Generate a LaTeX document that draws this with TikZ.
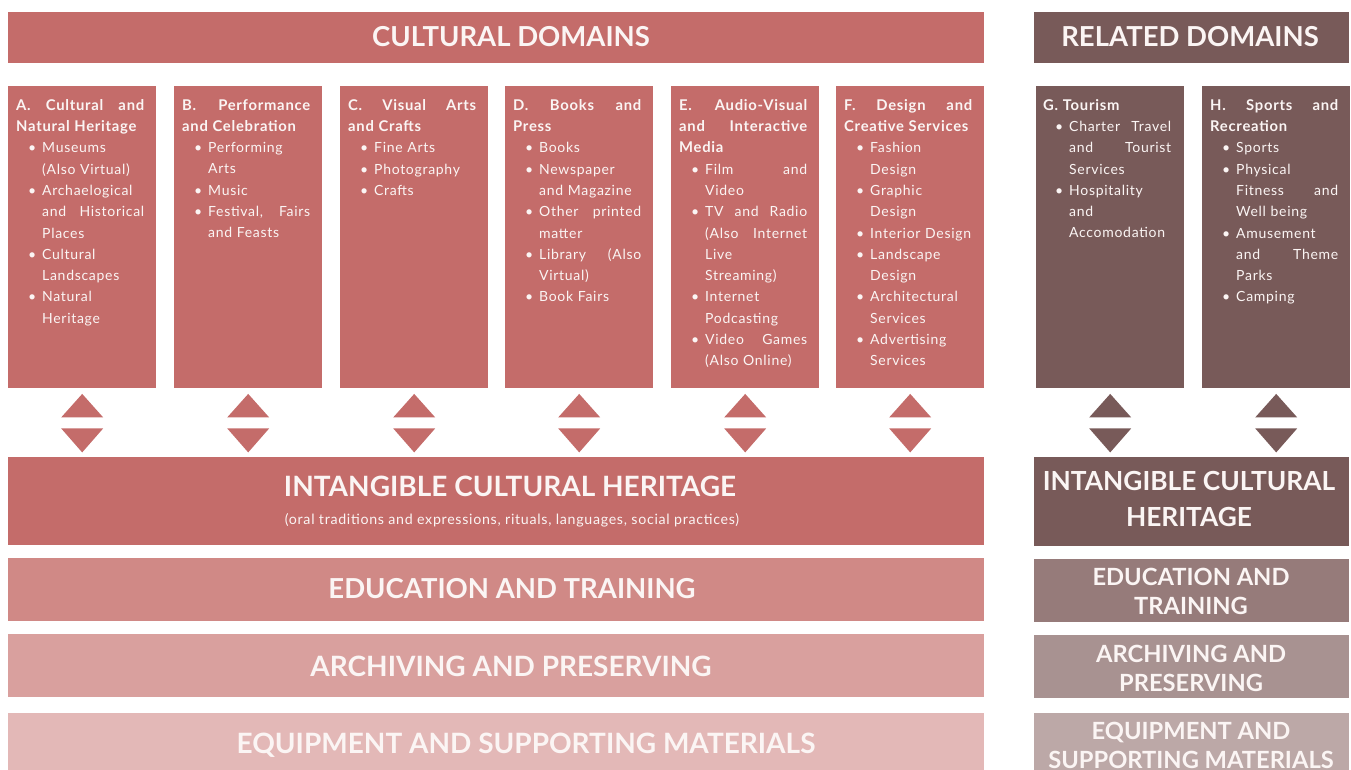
\documentclass[tikz,border=0pt]{standalone}
\usepackage{fontspec}
\setmainfont{Lato}
\newfontfamily\bodyf[LetterSpace=5]{Lato}
\usetikzlibrary{calc}
\definecolor{cd}{HTML}{C46C6A}
\definecolor{rd}{HTML}{785A59}
\definecolor{edL}{HTML}{D08986}
\definecolor{arL}{HTML}{D9A09E}
\definecolor{eqL}{HTML}{E3B8B7}
\definecolor{edR}{HTML}{967B7A}
\definecolor{arR}{HTML}{A89291}
\definecolor{eqR}{HTML}{BCA8A7}
\definecolor{txt}{HTML}{FBF5F4}
\newcommand\jl[2][128pt]{\makebox[#1][s]{\spaceskip=.3em plus 1fil\relax#2}}
\newcommand\ji[1]{\makebox[102pt][s]{\spaceskip=.3em plus 1fil\relax#1}}
\newcommand\hd[1]{{\bfseries\fontsize{14.8pt}{21.3pt}\selectfont#1}}
\newcommand\bu{\hspace*{12pt}\makebox[14pt][l]{\textbullet}}
\newcommand\ind{\hspace*{26pt}}
\tikzset{
  colbox/.style={fill=cd, minimum width=148pt, minimum height=302pt, inner sep=0pt, anchor=north west},
  relbox/.style={colbox, fill=rd},
  coltext/.style={text=txt, text width=132pt, align=left, inner sep=0pt, anchor=north west,
    font=\bodyf\fontsize{14pt}{21.3pt}\selectfont},
  bar/.style={inner sep=0pt, anchor=north west},
  hfont/.style={text=txt, inner sep=0pt, align=center, font=\bfseries\fontsize{27.5pt}{35pt}\selectfont},
  hbig/.style={hfont, font=\bfseries\fontsize{28pt}{35pt}\selectfont},
  rifont/.style={text=txt, inner sep=0pt, align=center, font=\bfseries\fontsize{26.3pt}{35.5pt}\selectfont},
  rfont/.style={text=txt, inner sep=0pt, align=center, font=\bfseries\fontsize{23.7pt}{29pt}\selectfont},
  tri/.style={fill=cd},
  rtri/.style={fill=rd},
}
\begin{document}
\begin{tikzpicture}[x=1pt,y=-1pt]
\useasboundingbox (0,0) rectangle (1351,769);
\clip (0,0) rectangle (1351,769);
% title bars
\node[bar, fill=cd, minimum width=976pt, minimum height=51pt] (cdbar) at (8,12) {};
\node[hfont] (cdt) at (511,37) {CULTURAL DOMAINS};
\node[bar, fill=rd, minimum width=315pt, minimum height=51pt] (rdbar) at (1034,12) {};
\node[hfont] (rdt) at (1190,37) {RELATED DOMAINS};
% column boxes
\node[colbox] (A) at (8,86) {};
\node[colbox] (B) at (174,86) {};
\node[colbox] (C) at (340,86) {};
\node[colbox] (D) at (505,86) {};
\node[colbox] (E) at (671,86) {};
\node[colbox] (F) at (836,86) {};
\node[relbox] (G) at (1036,86) {};
\node[relbox] (H) at (1202,86) {};
% column texts
\node[coltext] (At) at (16,99) {\hd{\jl{A. Cultural and}}\\
\hd{Natural Heritage}\\
\bu Museums\\
\ind (Also Virtual)\\
\bu Archaelogical\\
\ind\ji{and Historical}\\
\ind Places\\
\bu Cultural\\
\ind Landscapes\\
\bu Natural\\
\ind Heritage};
\node[coltext] (Bt) at (182,99) {\hd{\jl{B. Performance}}\\
\hd{and Celebration}\\
\bu Performing\\
\ind Arts\\
\bu Music\\
\bu\ji{Festival, Fairs}\\
\ind and Feasts};
\node[coltext] (Ct) at (348,99) {\hd{\jl{C. Visual Arts}}\\
\hd{and Crafts}\\
\bu Fine Arts\\
\bu Photography\\
\bu Crafts};
\node[coltext] (Dt) at (513,99) {\hd{\jl{D. Books and}}\\
\hd{Press}\\
\bu Books\\
\bu Newspaper\\
\ind and Magazine\\
\bu\ji{Other printed}\\
\ind matter\\
\bu\ji{Library (Also}\\
\ind Virtual)\\
\bu Book Fairs};
\node[coltext] (Et) at (679,99) {\hd{\jl{E. Audio-Visual}}\\
\hd{\jl{and Interactive}}\\
\hd{Media}\\
\bu\ji{Film and}\\
\ind Video\\
\bu\ji{TV and Radio}\\
\ind\ji{(Also Internet}\\
\ind Live\\
\ind Streaming)\\
\bu Internet\\
\ind Podcasting\\
\bu\ji{Video Games}\\
\ind (Also Online)};
\node[coltext] (Ft) at (844,99) {\hd{\jl{F. Design and}}\\
\hd{Creative Services}\\
\bu Fashion\\
\ind Design\\
\bu Graphic\\
\ind Design\\
\bu Interior Design\\
\bu Landscape\\
\ind Design\\
\bu Architectural\\
\ind Services\\
\bu Advertising\\
\ind Services};
\node[coltext] (Gt) at (1043,99) {\hd{G. Tourism}\\
\bu\ji{Charter Travel}\\
\ind\ji{and Tourist}\\
\ind Services\\
\bu Hospitality\\
\ind and\\
\ind Accomodation};
\node[coltext] (Ht) at (1210,99) {\hd{\jl{H. Sports and}}\\
\hd{Recreation}\\
\bu Sports\\
\bu Physical\\
\ind\ji{Fitness and}\\
\ind Well being\\
\bu Amusement\\
\ind\ji{and Theme}\\
\ind Parks\\
\bu Camping};
% bands left
\node[bar, fill=cd, minimum width=976pt, minimum height=88pt] (ich) at (8,457) {};
\node[hbig] (icht) at (510,486) {INTANGIBLE CULTURAL HERITAGE};
\node[text=txt, inner sep=0pt, font=\bodyf\fontsize{14.2pt}{16pt}\selectfont] (ichs) at (512,520) {(oral traditions and expressions, rituals, languages, social practices)};
\node[bar, fill=edL, minimum width=976pt, minimum height=63pt] (edu) at (8,558) {};
\node[hfont] (edut) at (512,589) {EDUCATION AND TRAINING};
\node[bar, fill=arL, minimum width=976pt, minimum height=63pt] (arc) at (8,634) {};
\node[hbig] (arct) at (511,666) {ARCHIVING AND PRESERVING};
\node[bar, fill=eqL, minimum width=976pt, minimum height=70pt] (equ) at (8,713) {};
\node[hbig] (equt) at (526,745) {EQUIPMENT AND SUPPORTING MATERIALS};
% bands right
\node[bar, fill=rd, minimum width=315pt, minimum height=89pt] (rich) at (1034,457) {};
\node[rifont] (richt) at (1189,499) {INTANGIBLE CULTURAL\\HERITAGE};
\node[bar, fill=edR, minimum width=315pt, minimum height=63pt] (redu) at (1034,559) {};
\node[rfont] (redut) at (1191,591) {EDUCATION AND\\TRAINING};
\node[bar, fill=arR, minimum width=315pt, minimum height=63pt] (rarc) at (1034,635) {};
\node[rfont] (rarct) at (1191,668) {ARCHIVING AND\\PRESERVING};
\node[bar, fill=eqR, minimum width=315pt, minimum height=70pt] (requ) at (1034,713) {};
\node[rfont] (requt) at (1191,745) {EQUIPMENT AND\\SUPPORTING MATERIALS};
% double arrows (triangles) between columns and bands
\foreach \c/\s in {A/tri,B/tri,C/tri,D/tri,E/tri,F/tri,G/rtri,H/rtri}{
  \fill[\s] ($(\c.south)+(-21,29)$) -- ($(\c.south)+(21,29)$) -- ($(\c.south)+(0,5.5)$) -- cycle;
  \fill[\s] ($(\c.south)+(-21,40)$) -- ($(\c.south)+(21,40)$) -- ($(\c.south)+(0,64)$) -- cycle;
}
\end{tikzpicture}
\end{document}
